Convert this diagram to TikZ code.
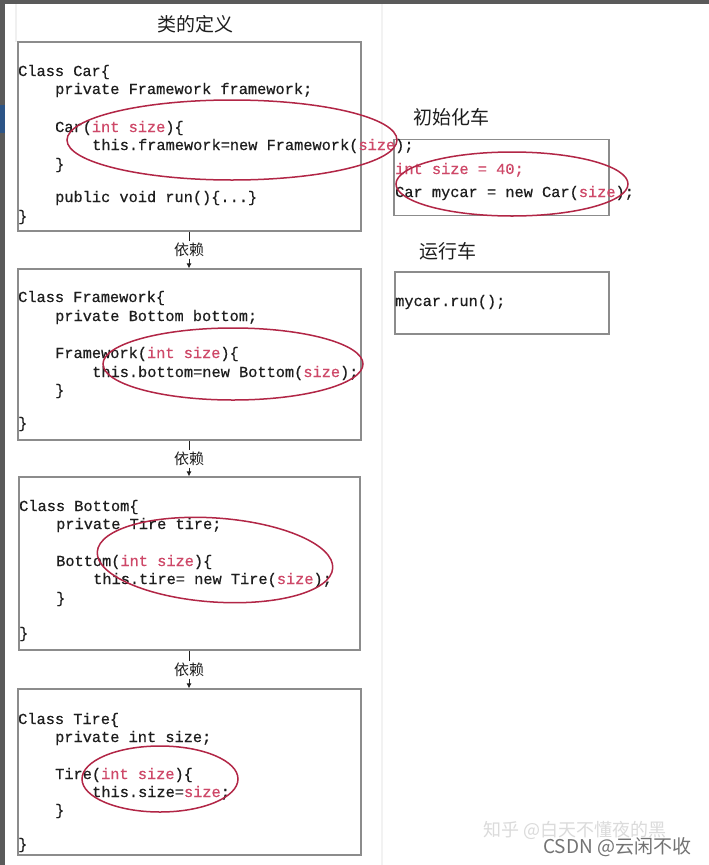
\documentclass[tikz,border=0pt]{standalone}
\usepackage{fontspec}
\newfontfamily\codefont{Liberation Mono}[WordSpace={1,0,0},FakeBold=0.6]
\newfontfamily\cjk{Noto Sans CJK SC}
\usetikzlibrary{arrows.meta}
\definecolor{codered}{RGB}{206,72,104}
\definecolor{ringred}{RGB}{178,38,70}
\definecolor{codeink}{RGB}{30,30,30}
\definecolor{boxline}{RGB}{140,140,140}
\definecolor{frame}{RGB}{90,90,90}
\definecolor{tagblue}{RGB}{45,85,135}
\newcommand{\rd}[1]{\textcolor{codered}{#1}}
\tikzset{
  codebox/.style={draw=boxline, line width=1.3pt, inner sep=0pt},
  code/.style={anchor=base west, inner sep=0pt, text=codeink, font=\codefont\fontsize{15.3}{18}\selectfont},
  title/.style={inner sep=1pt, text=codeink, font=\cjk\fontsize{19}{22}\selectfont},
  deplabel/.style={inner sep=1.5pt, fill=white, text=codeink, font=\cjk\fontsize{15}{18}\selectfont},
  depline/.style={draw=codeink, line width=0.8pt},
  ring/.style={draw=ringred, line width=1.5pt},
  mark1/.style={text=black!14, inner sep=0pt, font=\cjk\fontsize{18}{20}\selectfont},
  mark2/.style={text=black!55, inner sep=0pt, font=\cjk\fontsize{19}{22}\selectfont}
}
\begin{document}
\begin{tikzpicture}[x=1pt,y=-1pt]
\useasboundingbox (0,0) rectangle (709,865);
\fill[white] (0,0) rectangle (709,865);
\fill[black!5] (381,4) rectangle (383,865);
\fill[black!6] (15,4) rectangle (17,42);
\fill[frame] (0,0) rectangle (709,4);
\fill[frame] (0,0) rectangle (5,865);
\fill[tagblue] (0,105) rectangle (5,133);

% titles
\node[title] (t1) at (195,24) {类的定义};
\node[title] (t2) at (451,117) {初始化车};
\node[title] (t3) at (448,251) {运行车};

% boxes
\node[codebox, minimum width=343pt, minimum height=189pt] (car) at (189.5,136.5) {};
\node[codebox, minimum width=343pt, minimum height=171pt] (fw) at (189.5,354.5) {};
\node[codebox, minimum width=341pt, minimum height=173pt] (bot) at (189.5,563.5) {};
\node[codebox, minimum width=343pt, minimum height=166pt] (tire) at (189.5,772) {};
\node[codebox, minimum width=215pt, minimum height=76pt] (init) at (501.5,177.5) {};
\node[codebox, minimum width=214pt, minimum height=62pt] (run) at (502,303) {};

% Car
\node[code] (c1) at (18,76) {Class Car\{};
\node[code] (c2) at (55,94) {private Framework framework;};
\node[code] (c3) at (55,132) {Car(\rd{int size})\{};
\node[code] (c4) at (92,150) {this.framework=new Framework(\rd{size});};
\node[code] (c5) at (55,169) {\}};
\node[code] (c6) at (55,202) {public void run()\{...\}};
\node[code] (c7) at (18,221) {\}};

% Framework
\node[code] (f1) at (18,302) {Class Framework\{};
\node[code] (f2) at (55,321) {private Bottom bottom;};
\node[code] (f3) at (55,358) {Framework(\rd{int size})\{};
\node[code] (f4) at (92,377) {this.bottom=new Bottom(\rd{size});};
\node[code] (f5) at (55,395) {\}};
\node[code] (f6) at (18,428) {\}};

% Bottom
\node[code] (b1) at (19,511) {Class Bottom\{};
\node[code] (b2) at (56,529) {private Tire tire;};
\node[code] (b3) at (56,566) {Bottom(\rd{int size})\{};
\node[code] (b4) at (93,584) {this.tire= new Tire(\rd{size});};
\node[code] (b5) at (56,603) {\}};
\node[code] (b6) at (19,638) {\}};

% Tire
\node[code] (r1) at (18,724) {Class Tire\{};
\node[code] (r2) at (55,742) {private int size;};
\node[code] (r3) at (55,779) {Tire(\rd{int size})\{};
\node[code] (r4) at (92,797) {this.size=\rd{size};};
\node[code] (r5) at (55,815) {\}};
\node[code] (r6) at (18,849) {\}};

% init / run
\node[code] (i1) at (395,174) {\rd{int size = 40;}};
\node[code] (i2) at (395,197) {Car mycar = new Car(\rd{size});};
\node[code] (u1) at (395,306) {mycar.run();};

% dependencies
\node[deplabel] (d1) at (189,250) {依赖};
\node[deplabel] (d2) at (189,459) {依赖};
\node[deplabel] (d3) at (189,670) {依赖};
\draw[depline] (car.south -| d1) -- (d1.north);
\draw[depline, -{Latex[length=5pt,width=5pt]}] (d1.south) -- (fw.north -| d1);
\draw[depline] (fw.south -| d2) -- (d2.north);
\draw[depline, -{Latex[length=5pt,width=5pt]}] (d2.south) -- (bot.north -| d2);
\draw[depline] (bot.south -| d3) -- (d3.north);
\draw[depline, -{Latex[length=5pt,width=5pt]}] (d3.south) -- (tire.north -| d3);

% rings
\draw[ring] (232,140) ellipse [x radius=165, y radius=40];
\draw[ring] (512,184) ellipse [x radius=116, y radius=32];
\draw[ring] (233,364) ellipse [x radius=130, y radius=36];
\draw[ring, rotate around={-4:(215,560)}] (215,560) ellipse [x radius=118, y radius=42];
\draw[ring] (160,779) ellipse [x radius=78, y radius=33];

% watermarks
\node[mark1, anchor=west] (w1) at (483,830) {知乎 @白天不懂夜的黑};
\node[mark2, anchor=west] (w2) at (543,847) {CSDN @云闲不收};
\end{tikzpicture}
\end{document}
